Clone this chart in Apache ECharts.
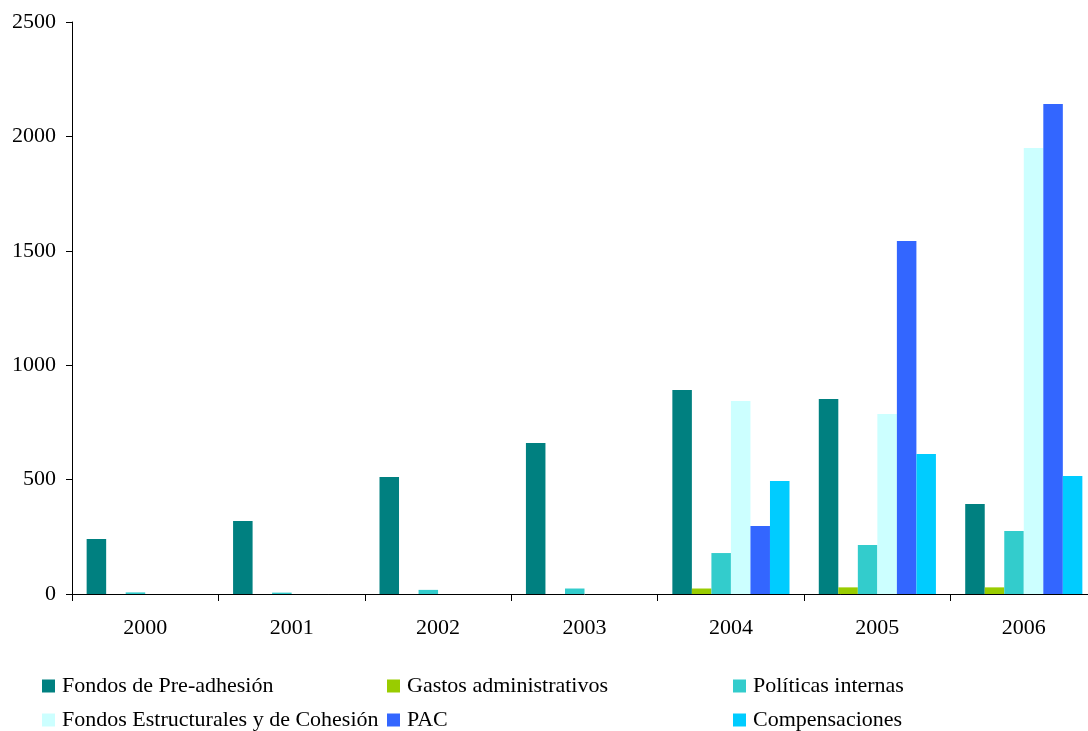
<!DOCTYPE html>
<html><head><meta charset="utf-8">
<script src="https://cdn.jsdelivr.net/npm/echarts@6/dist/echarts.min.js"></script>
<style>html,body{margin:0;padding:0;background:#fff;overflow:hidden;width:1088px;height:731px}#c{width:1120px;height:731px}</style>
</head><body><div id="c"></div>
<script>
const categories = ['2000','2001','2002','2003','2004','2005','2006'];
const seriesNames = ['Fondos de Pre-adhesión','Gastos administrativos','Políticas internas','Fondos Estructurales y de Cohesión','PAC','Compensaciones'];
const fondosPre = [240, 319, 511, 660, 892, 852, 393];
const gastos = [0, 0, 0, 0, 24, 29, 29];
const politicas = [7, 6, 18, 24, 179, 214, 275];
const estructurales = [0, 0, 0, 0, 843, 787, 1949];
const pac = [0, 0, 0, 0, 297, 1543, 2142];
const compensaciones = [0, 0, 0, 0, 494, 612, 516];
const yTicks = [0, 500, 1000, 1500, 2000, 2500];
const colors = ['#008080','#99CC00','#33CCCC','#CCFFFF','#3366FF','#00CCFF'];
const values = [fondosPre, gastos, politicas, estructurales, pac, compensaciones];

const font = 'Liberation Serif, Times New Roman, serif';
const chart = echarts.init(document.getElementById('c'));
const legendCols = [42, 387, 733];
const legendRows = [675, 709];
const legends = seriesNames.map((n, i) => ({
  left: legendCols[i % 3], top: legendRows[Math.floor(i / 3)], padding: 0,
  orient: 'horizontal', icon: 'rect', itemWidth: 13, itemHeight: 13,
  selectedMode: false, data: [n],
  textStyle: { fontFamily: font, fontSize: 22, color: '#000', padding: [0, 0, 0, 2] }
}));
chart.setOption({
  animation: false,
  color: colors,
  grid: { left: 72, width: 1025, top: 22, bottom: 137, containLabel: false },
  legend: legends,
  xAxis: {
    type: 'category', data: categories, boundaryGap: true,
    axisLine: { lineStyle: { color: '#000', width: 1 } },
    axisTick: { show: true, length: 7, lineStyle: { color: '#000' } },
    axisLabel: { fontFamily: font, fontSize: 22, color: '#000', margin: 23 }
  },
  yAxis: {
    type: 'value', min: yTicks[0], max: yTicks[yTicks.length - 1], interval: 500,
    axisLine: { show: true, lineStyle: { color: '#000', width: 1 } },
    axisTick: { show: true, length: 6, lineStyle: { color: '#000' } },
    splitLine: { show: false },
    axisLabel: { fontFamily: font, fontSize: 22, color: '#000', margin: 16, formatter: v => String(v) }
  },
  series: seriesNames.map((n, i) => ({
    name: n, type: 'bar', data: values[i], barGap: 0, barCategoryGap: '20%',
    itemStyle: { color: colors[i] }
  }))
});
</script></body></html>
